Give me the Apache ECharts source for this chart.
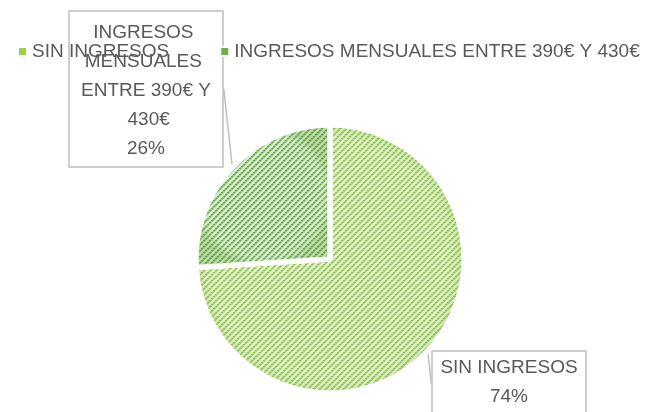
<!DOCTYPE html>
<html>
<head>
<meta charset="utf-8">
<script src="https://cdn.jsdelivr.net/npm/echarts@6/dist/echarts.min.js"></script>
<style>
  html, body { margin: 0; padding: 0; background: #fff; }
  #main { width: 657px; height: 412px; }
</style>
</head>
<body>
<div id="main"></div>
<script>
  var categories = ['SIN INGRESOS', 'INGRESOS MENSUALES ENTRE 390€ Y 430€'],
      values = [74, 26];

  var FONT = "'Liberation Sans', Arial, sans-serif";

  // diagonal stripe fill like the excel pattern
  function stripes(bg, dark, mid) {
    var c = document.createElement('canvas');
    c.width = 6; c.height = 6;
    var ctx = c.getContext('2d');
    ctx.fillStyle = bg;
    ctx.fillRect(0, 0, 6, 6);
    for (var i = 0; i < 6; i++) {
      ctx.fillStyle = (i % 2) ? dark : mid;
      ctx.fillRect(i, 5 - i, 1, 1);
      ctx.fillStyle = (i % 2) ? mid : dark;
      ctx.fillRect(i, (6 - i) % 6, 1, 1);
      ctx.fillStyle = mid;
      ctx.fillRect(i, (7 - i) % 6, 1, 1);
    }
    return { image: c, repeat: 'repeat' };
  }

  var fills = [
    stripes('#e6f3d0', '#88c43a', '#b3dc7a'),
    stripes('#d9ecd0', '#62a840', '#98c97e')
  ];
  var legendColors = ['#9bd14f', '#6db146'];

  // soft darker rim on top of the stripes
  var rim = {
    type: 'radial', x: 0.5, y: 0.5, r: 0.5,
    colorStops: [
      { offset: 0, color: 'rgba(255,255,255,0)' },
      { offset: 0.8, color: 'rgba(255,255,255,0)' },
      { offset: 1, color: 'rgba(90,150,40,0.22)' }
    ]
  };

  var myChart = echarts.init(document.getElementById('main'));

  var option = {
    animation: false,
    legend: {
      top: 37,
      left: 12,
      itemWidth: 9,
      itemHeight: 9,
      itemGap: 50,
      icon: 'rect',
      textStyle: { fontFamily: FONT, fontSize: 19, color: '#595959' },
      data: categories.map(function (name, i) {
        return { name: name, itemStyle: { color: legendColors[i] } };
      })
    },
    series: [{
      type: 'pie',
      center: [330, 259],
      radius: 134,
      startAngle: 90,
      clockwise: true,
      itemStyle: { borderColor: '#fff', borderWidth: 5 },
      label: {
        show: true,
        formatter: '{b}\n{d}%',
        fontFamily: FONT,
        fontSize: 19,
        lineHeight: 29,
        color: '#595959',
        width: 140,
        overflow: 'break',
        align: 'center',
        borderColor: '#bfbfbf',
        borderWidth: 1.5,
        padding: [7, 7, 4, 7]
      },
      labelLine: { show: true, length: 0, length2: 0, lineStyle: { color: '#bfbfbf', width: 1.5 } },
      labelLayout: function (p) {
        if (p.dataIndex === 0) {
          return { x: 509, y: 351, align: 'center', verticalAlign: 'top' };
        }
        return { x: 146, y: 11, align: 'center', verticalAlign: 'top' };
      },
      data: categories.map(function (name, i) {
        var d = { name: name, value: values[i], itemStyle: { color: fills[i] } };
        if (i === 0) d.label = { padding: [2, 7, 5, 7] };
        return d;
      })
    }, {
      type: 'pie',
      silent: true,
      center: [330, 259],
      radius: 134,
      startAngle: 90,
      clockwise: true,
      legendHoverLink: false,
      itemStyle: { color: rim, borderColor: '#fff', borderWidth: 5 },
      label: { show: false },
      labelLine: { show: false },
      data: categories.map(function (name, i) {
        return { name: name, value: values[i] };
      })
    }]
  };

  myChart.setOption(option);
</script>
</body>
</html>
